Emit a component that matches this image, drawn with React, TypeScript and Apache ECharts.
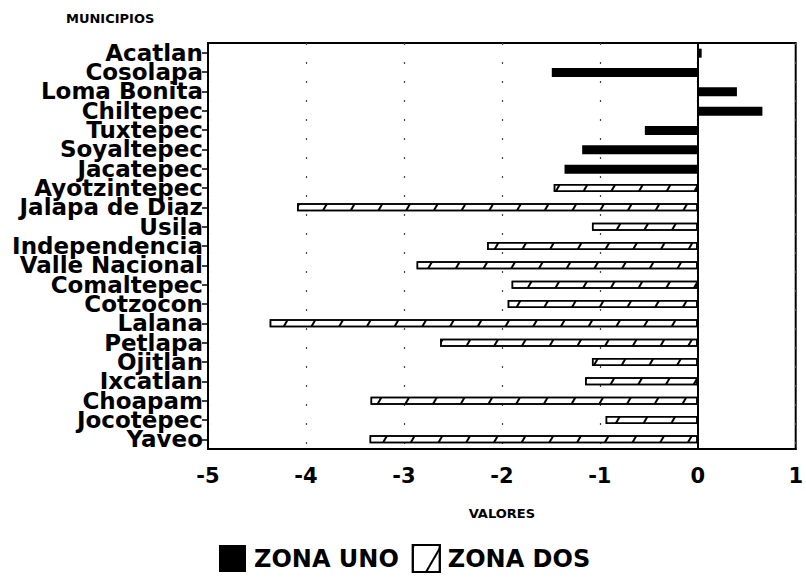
import React, { useEffect, useRef } from "react";
import * as echarts from "echarts";

const categories = [
  "Acatlan", "Cosolapa", "Loma Bonita", "Chiltepec", "Tuxtepec", "Soyaltepec", "Jacatepec",
  "Ayotzintepec", "Jalapa de Diaz", "Usila", "Independencia", "Valle Nacional", "Comaltepec",
  "Cotzocon", "Lalana", "Petlapa", "Ojitlan", "Ixcatlan", "Choapam", "Jocotepec", "Yaveo",
];
const zonaUno = [0.04, -1.49, 0.4, 0.66, -0.54, -1.18, -1.36];
const zonaDos = [-1.47, -4.09, -1.08, -2.15, -2.87, -1.9, -1.94, -4.37, -2.63, -1.08, -1.15, -3.34, -0.94, -3.35];
const xTicks = { min: -5, max: 1, interval: 1 };

const unoData = categories.map((_, i) => (i < zonaUno.length ? zonaUno[i] : "-"));
const dosData = categories.map((_, i) => (i >= zonaUno.length ? zonaDos[i - zonaUno.length] : "-"));

const hatch = {
  symbol: "rect",
  symbolSize: 1,
  color: "#000",
  backgroundColor: "#fff",
  dashArrayX: [1, 0],
  dashArrayY: [2, 22],
  rotation: -Math.PI / 3,
};

export default function App() {
  const ref = useRef<HTMLDivElement>(null);
  useEffect(() => {
    const chart = echarts.init(ref.current!, null, { renderer: "svg" });
    chart.setOption({
      animation: false,
      backgroundColor: "#fff",
      title: {
        text: "MUNICIPIOS",
        left: 66,
        top: 12,
        textStyle: { fontFamily: "DejaVu Sans", fontWeight: "bold", fontSize: 13, color: "#000" },
        padding: 0,
      },
      legend: {
        bottom: 8,
        left: 219,
        icon: "rect",
        itemWidth: 27,
        itemHeight: 27,
        itemGap: 13,
        padding: 0,
        textStyle: { fontFamily: "DejaVu Sans", fontWeight: "bold", fontSize: 24, color: "#000", padding: [0, 0, 0, 3] },
        data: ["ZONA UNO", "ZONA DOS"],
      },
      grid: {
        left: 208,
        right: 9,
        top: 43,
        bottom: 132,
        show: true,
        borderColor: "#000",
        borderWidth: 2,
        backgroundColor: "transparent",
      },
      xAxis: {
        type: "value",
        min: xTicks.min,
        max: xTicks.max,
        interval: xTicks.interval,
        name: "VALORES",
        nameLocation: "middle",
        nameGap: 58,
        nameTextStyle: { fontFamily: "DejaVu Sans", fontWeight: "bold", fontSize: 13, color: "#000" },
        axisLine: { show: true, lineStyle: { color: "#000", width: 2 } },
        axisTick: { show: false },
        axisLabel: { fontFamily: "DejaVu Sans", fontWeight: "bold", fontSize: 21, color: "#000", margin: 16 },
        splitLine: { show: true, lineStyle: { color: "#444", width: 1.2, type: [2, 17] } },
      },
      yAxis: {
        type: "category",
        data: categories,
        inverse: true,
        axisLine: { show: true, onZero: false, lineStyle: { color: "#000", width: 2 } },
        axisTick: { show: true, alignWithLabel: true, length: 6, lineStyle: { color: "#000", width: 1.5 } },
        axisLabel: {
          interval: 0,
          fontFamily: "DejaVu Sans",
          fontWeight: "bold",
          fontSize: 23,
          lineHeight: 19,
          color: "#000",
          margin: 5,
        },
        splitLine: { show: false },
      },
      series: [
        {
          name: "ZONA UNO",
          type: "bar",
          data: unoData,
          barWidth: 9,
          barGap: "-100%",
          itemStyle: { color: "#000" },
          markLine: {
            silent: true,
            symbol: "none",
            label: { show: false },
            lineStyle: { color: "#000", width: 2, type: "solid" },
            data: [{ xAxis: 0 }],
          },
        },
        {
          name: "ZONA DOS",
          type: "bar",
          data: dosData,
          barWidth: 8,
          barGap: "-100%",
          itemStyle: { color: "#fff", borderColor: "#000", borderWidth: 1.5, decal: hatch },
        },
      ],
    });
    return () => chart.dispose();
  }, []);
  return <div ref={ref} style={{ width: 806, height: 581, position: "absolute", left: 0, top: 0 }} />;
}
